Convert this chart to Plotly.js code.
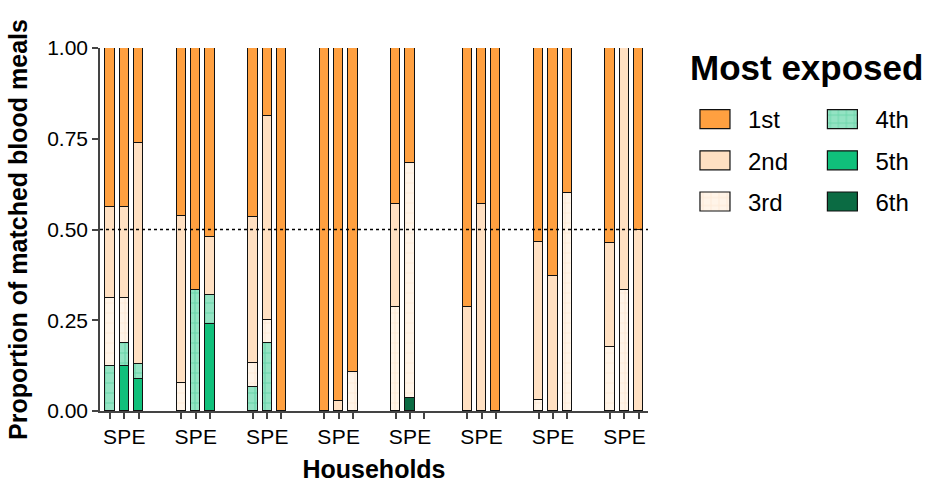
<!DOCTYPE html>
<html>
<head>
<meta charset="utf-8">
<script src="https://cdn.plot.ly/plotly-3.0.1.min.js"></script>
<style>html,body{margin:0;padding:0;background:#fff;}#chart{width:932px;height:493px;}</style>
</head>
<body>
<div id="chart"></div>
<script>
// Households (8), each with three bars: S, P, E
const households = ["H1","H2","H3","H4","H5","H6","H7","H8"];
const sources = ["S","P","E"];
const seriesNames = ["1st","2nd","3rd","4th","5th","6th"];

// Proportion of matched blood meals per bar (H1 S,P,E, H2 S,P,E, ...)
const first  = [0.4375,0.4375,0.261, 0.462,0.667,0.52, 0.4667,0.1875,1, 1,0.972,0.892, 0.429,0.318,0, 0.714,0.429,1, 0.534,0.627,0.4, 0.538,0,0.5];
const second = [0.25,0.25,0.609, 0.461,0,0.16, 0.4,0.5625,0, 0,0.028,0, 0.285,0,0, 0.286,0.571,0, 0.436,0.373,0, 0.285,0.667,0.5];
const third  = [0.1875,0.125,0, 0.077,0,0, 0.0667,0.0625,0, 0,0,0.108, 0.286,0.647,0, 0,0,0, 0.03,0,0.6, 0.177,0.333,0];
const fourth = [0.125,0.0625,0.043, 0,0.333,0.08, 0.0667,0.1875,0, 0,0,0, 0,0,0, 0,0,0, 0,0,0, 0,0,0];
const fifth  = [0,0.125,0.087, 0,0,0.24, 0,0,0, 0,0,0, 0,0,0, 0,0,0, 0,0,0, 0,0,0];
const sixth  = [0,0,0, 0,0,0, 0,0,0, 0,0,0, 0,0.035,0, 0,0,0, 0,0,0, 0,0,0];

const GROUP_SLOTS = 5;
const xs = [], tickText = [];
households.forEach((h, g) => sources.forEach((s, j) => { xs.push(g * GROUP_SLOTS + j); tickText.push(s); }));

const styles = {
  "1st": {color: "#FFA040"},
  "2nd": {color: "#FFE0C2"},
  "3rd": {color: "#FFF4E8", pattern: {shape: "+", fgcolor: "#F9DDC2", bgcolor: "#FFF4E8", size: 10, solidity: 0.2, fillmode: "overlay"}},
  "4th": {color: "#93E3C3", pattern: {shape: "+", fgcolor: "#3EC68E", bgcolor: "#93E3C3", size: 10, solidity: 0.2, fillmode: "overlay"}},
  "5th": {color: "#10C07B"},
  "6th": {color: "#0B6B43"}
};
const dataBySeries = {"1st": first, "2nd": second, "3rd": third, "4th": fourth, "5th": fifth, "6th": sixth};

// stacking order: bottom first
const stackOrder = ["6th","5th","4th","3rd","2nd","1st"];
const traces = stackOrder.map(name => {
  const st = styles[name];
  const marker = {color: st.color, line: {color: "#111", width: 1.2}};
  if (st.pattern) marker.pattern = st.pattern;
  return {
    type: "bar", name: name, x: xs,
    y: dataBySeries[name].map(v => v === 0 ? null : v),
    width: 0.65, marker: marker, legendgroup: name,
    legendrank: seriesNames.indexOf(name) + 1,
    legend: (["1st","2nd","3rd"].indexOf(name) >= 0) ? "legend" : "legend2",
    hoverinfo: "name+y"
  };
});

const legendCommon = {
  orientation: "v", traceorder: "grouped", tracegroupgap: 7,
  itemwidth: 56, font: {family: "Arial, 'Liberation Sans', sans-serif", size: 24, color: "#000"},
  bgcolor: "rgba(0,0,0,0)", xanchor: "left", yanchor: "top", itemclick: false, itemdoubleclick: false
};

const layout = {
  width: 932, height: 493,
  margin: {l: 100, r: 284, t: 48, b: 82},
  paper_bgcolor: "#fff", plot_bgcolor: "#fff",
  barmode: "stack", bargap: 0,
  font: {family: "Arial, 'Liberation Sans', sans-serif", color: "#000"},
  showlegend: true,
  legend: Object.assign({}, legendCommon, {x: 1.062, y: 0.865}),
  legend2: Object.assign({}, legendCommon, {x: 1.2945, y: 0.865}),
  xaxis: {
    range: [-0.7, 37.65], tickmode: "array", tickvals: xs, ticktext: tickText, tickangle: 0,
    ticks: "outside", ticklen: 6, tickwidth: 1.5, tickcolor: "#444",
    showline: true, linecolor: "#444", linewidth: 1.5, showgrid: false, zeroline: false,
    tickfont: {size: 21, color: "#000"},
    title: {text: "<b>Households</b>", font: {size: 25, color: "#000"}, standoff: 14}
  },
  yaxis: {
    range: [0, 1], tickvals: [0, 0.25, 0.5, 0.75, 1], ticktext: ["0.00","0.25","0.50","0.75","1.00"],
    ticks: "outside", ticklen: 6, tickwidth: 1.5, tickcolor: "#444",
    showline: true, linecolor: "#444", linewidth: 1.5, showgrid: false, zeroline: false,
    tickfont: {size: 21, color: "#000"},
    title: {text: "<b>Proportion of matched blood meals</b>", font: {size: 25, color: "#000"}, standoff: 12}
  },
  shapes: [{type: "line", xref: "paper", x0: 0, x1: 1, yref: "y", y0: 0.5, y1: 0.5,
            line: {color: "#000", width: 1.5, dash: "dot"}, layer: "above"}],
  annotations: [{text: "<b>Most exposed</b>", xref: "paper", yref: "paper", x: 1.289, y: 0.945,
                 xanchor: "center", yanchor: "middle", showarrow: false,
                 font: {size: 35, color: "#000"}}]
};

function widenSwatches() {
  document.querySelectorAll("#chart g.legendpoints path").forEach(p => p.setAttribute("d", "M15,9.5H-15V-9.5H15Z"));
}
Plotly.newPlot("chart", traces, layout, {displayModeBar: false}).then(gd => {
  widenSwatches();
  gd.on("plotly_afterplot", widenSwatches);
  setTimeout(widenSwatches, 50);
  setTimeout(widenSwatches, 300);
});
</script>
</body>
</html>
